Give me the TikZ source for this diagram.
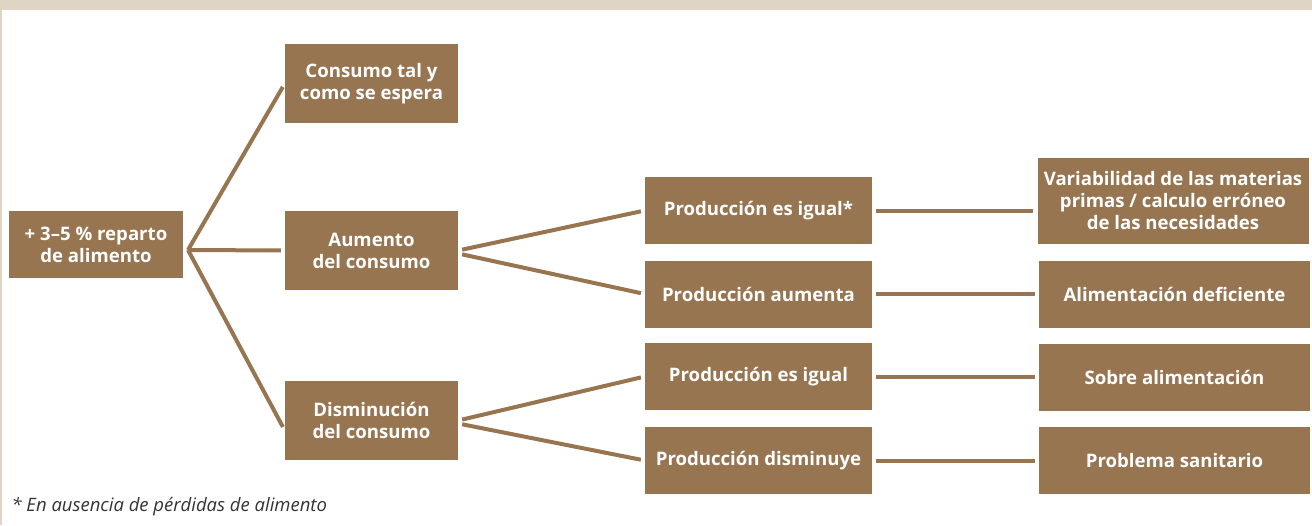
\documentclass[tikz,border=0pt]{standalone}
\usepackage{fontspec}
\setmainfont{Open Sans}
\usetikzlibrary{calc}
\definecolor{cafe}{RGB}{151,117,81}
\definecolor{arena}{RGB}{224,212,197}
\tikzset{>=latex}
\tikzstyle{caja}=[rectangle,fill=cafe,text=white,font=\fontsize{18.6}{22}\selectfont\bfseries,align=center,inner sep=0pt]
\tikzstyle{rama}=[draw=cafe,line width=4pt,shorten <=4pt,shorten >=4pt]

\begin{document}
\begin{tikzpicture}[x=1pt,y=-1pt]
	\def \anA {174};
	\def \anB {173};
	\def \anC {227};
	\def \anD {271};
	\def \altB {79};
	\def \altC {67};

	\useasboundingbox (0,0) rectangle (1312,525);
	\fill[arena] (0,0) rectangle (1312,10);
	\fill[arena] (0,10) rectangle (2,525);

	\node[caja,minimum width=\anA,minimum height=67] (raiz) at (96,244.5) {+ 3--5 \% reparto\\de alimento};

	\node[caja,minimum width=\anB,minimum height=\altB] (espera) at (371.5,83.5) {Consumo tal y\\como se espera};
	\node[caja,minimum width=\anB,minimum height=\altB] (aumento) at (371.5,250.5) {Aumento\\del consumo};
	\node[caja,minimum width=\anB,minimum height=\altB] (baja) at (371.5,420.5) {Disminución\\del consumo};

	\node[caja,minimum width=\anC,minimum height=\altC] (prod1) at (758.5,210.5) {Producción es igual*};
	\node[caja,minimum width=\anC,minimum height=\altC] (prod2) at (758.5,294) {Producción aumenta};
	\node[caja,minimum width=\anC,minimum height=\altC] (prod3) at (758.5,376.5) {Producción es igual};
	\node[caja,minimum width=\anC,minimum height=\altC] (prod4) at (758.5,460.5) {Producción disminuye};

	\node[caja,minimum width=\anD,minimum height=86] (efecto1) at (1173,201) {Variabilidad de las materias\\primas / calculo erróneo\\de las necesidades};
	\node[caja,minimum width=\anD,minimum height=\altC] (efecto2) at (1174.5,294) {Alimentación deficiente};
	\node[caja,minimum width=\anD,minimum height=\altC] (efecto3) at (1174.5,377) {Sobre alimentación};
	\node[caja,minimum width=\anD,minimum height=\altC] (efecto4) at (1174.5,460.5) {Problema sanitario};

	\coordinate (abanico) at (188,250);
	\draw[rama,shorten <=0pt] (abanico) -- (espera.west);
	\draw[rama,shorten <=0pt] (abanico) -- (aumento.west);
	\draw[rama,shorten <=0pt] (abanico) -- ($(baja.west)+(0,10)$);

	\draw[rama] (aumento.east) -- (prod1.west);
	\draw[rama] ($(aumento.east)+(0,3)$) -- (prod2.west);
	\draw[rama] (baja.east) -- (prod3.west);
	\draw[rama] ($(baja.east)+(0,3)$) -- (prod4.west);

	\foreach \i in {1,...,4} {
		\draw[rama] (prod\i.east) -- (efecto\i.west |- prod\i.east);
	};

	\node[anchor=west,text=black!80,font=\fontsize{18.5}{22}\selectfont\itshape] (nota) at (8,507) {* En ausencia de pérdidas de alimento};
\end{tikzpicture}
\end{document}
